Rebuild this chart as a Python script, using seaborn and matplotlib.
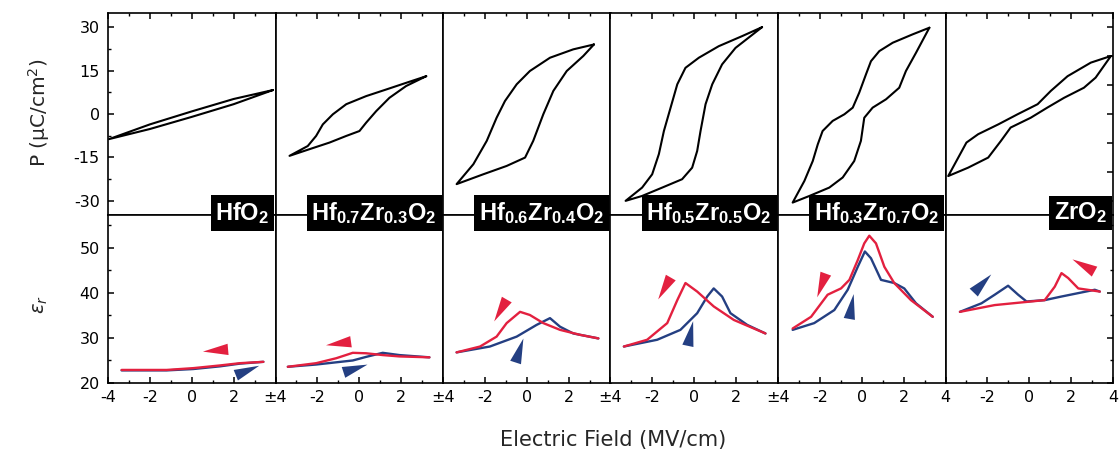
import numpy as np
import pandas as pd
import matplotlib
matplotlib.use("Agg")
import matplotlib.pyplot as plt
import seaborn as sns
from matplotlib.markers import MarkerStyle
from matplotlib.path import Path
from matplotlib.transforms import Affine2D
from matplotlib.ticker import MultipleLocator

# ---------------- data ----------------
materials = [r"$\mathbf{HfO_2}$",
             r"$\mathbf{Hf_{0.7}Zr_{0.3}O_2}$",
             r"$\mathbf{Hf_{0.6}Zr_{0.4}O_2}$",
             r"$\mathbf{Hf_{0.5}Zr_{0.5}O_2}$",
             r"$\mathbf{Hf_{0.3}Zr_{0.7}O_2}$",
             r"$\mathbf{ZrO_2}$"]

# P-E loops: upper branch (sweep +E -> -E), lower branch (sweep -E -> +E)
hfo2_up_E = [3.88, 2.0, 0.0, -2.0, -3.95]
hfo2_up_P = [8.3, 5.2, 0.9, -3.6, -8.7]
hfo2_lo_E = [-3.95, -2.0, 0.0, 2.0, 3.88]
hfo2_lo_P = [-8.7, -5.2, -1.0, 3.4, 8.3]

hz73_up_E = [3.20, 2.24, 1.29, 0.33, -0.62, -1.26, -1.74, -2.06, -2.46, -3.33]
hz73_up_P = [13.1, 10.8, 8.5, 6.2, 3.4, -0.1, -3.6, -7.6, -11.1, -14.5]
hz73_lo_E = [-3.33, -2.38, -1.42, -0.62, 0.01, 0.33, 0.81, 1.44, 2.24, 3.20]
hz73_lo_P = [-14.5, -12.2, -9.9, -7.6, -5.9, -3.0, 1.0, 5.6, 9.7, 13.1]

hz64_up_E = [3.21, 2.22, 1.11, 0.15, -0.48, -1.04, -1.44, -1.91, -2.55, -3.35]
hz64_up_P = [24.1, 22.4, 19.5, 14.9, 10.3, 4.5, -1.3, -9.3, -17.4, -24.3]
hz64_lo_E = [-3.35, -2.08, -0.96, -0.08, 0.31, 0.79, 1.27, 1.91, 2.70, 3.21]
hz64_lo_P = [-24.3, -20.9, -18.0, -15.1, -9.3, -0.1, 8.0, 14.9, 20.1, 24.1]

hz55_up_E = [3.24, 2.29, 1.17, 0.22, -0.42, -0.81, -1.13, -1.45, -1.69, -2.01, -2.49, -3.28]
hz55_up_P = [30.1, 27.0, 23.5, 19.5, 16.0, 10.3, 2.2, -5.9, -13.9, -20.9, -25.5, -30.1]
hz55_lo_E = [-3.28, -2.49, -1.53, -0.58, -0.10, 0.14, 0.30, 0.54, 0.86, 1.33, 1.97, 3.24]
hz55_lo_P = [-30.1, -28.4, -25.5, -22.6, -18.6, -12.8, -5.9, 3.4, 10.3, 17.2, 22.9, 30.1]

hz37_up_E = [3.23, 2.43, 1.48, 0.84, 0.44, 0.20, -0.12, -0.43, -0.83, -1.39, -1.87,
             -2.10, -2.34, -2.74, -3.30]
hz37_up_P = [29.9, 27.6, 24.7, 21.8, 18.3, 13.7, 7.4, 2.2, -0.1, -2.4, -5.9,
             -10.5, -16.3, -23.2, -30.7]
hz37_lo_E = [-3.30, -2.50, -1.55, -0.91, -0.36, -0.04, 0.12, 0.52, 1.16, 1.79, 2.11, 2.59, 3.23]
hz37_lo_P = [-30.7, -28.4, -25.5, -22.0, -16.3, -9.3, -1.3, 2.2, 5.1, 9.1, 14.9, 21.2, 29.9]

zro2_up_E = [3.90, 2.94, 1.83, 1.03, 0.40, -0.56, -1.48, -2.44, -3.0, -3.39, -3.87]
zro2_up_P = [20.1, 17.8, 13.1, 8.0, 3.4, -0.1, -3.6, -7.0, -9.9, -15.1, -21.5]
zro2_lo_E = [-3.87, -2.92, -1.96, -1.35, -0.89, 0.07, 0.86, 1.66, 2.61, 3.17, 3.90]
zro2_lo_P = [-21.5, -18.6, -15.1, -9.3, -4.7, -1.3, 2.2, 5.6, 9.1, 12.6, 20.1]

# permittivity vs field: red = down sweep, blue = up sweep
hfo2_red_E = [-3.35, -1.2, 0.07, 1.35, 2.3, 3.42]
hfo2_red_e = [22.9, 22.9, 23.3, 23.9, 24.4, 24.7]
hfo2_blue_E = [-3.35, -1.2, 0.07, 1.35, 2.3, 3.42]
hfo2_blue_e = [22.8, 22.8, 23.1, 23.7, 24.3, 24.7]

hz73_red_E = [-3.41, -2.06, -1.1, -0.31, 0.33, 1.12, 1.92, 3.35]
hz73_red_e = [23.6, 24.4, 25.5, 26.7, 26.6, 26.2, 25.9, 25.7]
hz73_blue_E = [-3.41, -2.06, -0.31, 0.33, 1.12, 1.92, 3.35]
hz73_blue_e = [23.6, 24.1, 25.0, 25.8, 26.7, 26.2, 25.7]

hz64_red_E = [-3.35, -2.23, -1.44, -0.96, -0.32, 0.15, 0.79, 1.59, 2.54, 3.42]
hz64_red_e = [26.8, 28.1, 30.3, 33.3, 35.8, 35.1, 33.3, 31.8, 30.7, 29.9]
hz64_blue_E = [-3.35, -1.76, -0.48, 0.47, 1.11, 1.59, 2.22, 3.42]
hz64_blue_e = [26.8, 28.1, 30.3, 32.9, 34.4, 32.5, 31.0, 29.9]

hz55_red_E = [-3.36, -2.25, -1.29, -0.81, -0.42, 0.14, 0.93, 1.89, 3.40]
hz55_red_e = [28.1, 29.6, 33.3, 38.4, 42.2, 40.3, 37.0, 34.0, 31.0]
hz55_blue_E = [-3.36, -1.77, -0.66, 0.14, 0.62, 0.93, 1.33, 1.73, 2.53, 3.40]
hz55_blue_e = [28.1, 29.6, 31.8, 35.5, 39.2, 41.0, 39.2, 35.5, 32.9, 31.0]

hz37_red_E = [-3.30, -2.42, -1.63, -0.99, -0.59, -0.19, 0.12, 0.36, 0.68, 1.08, 1.55, 2.35, 3.39]
hz37_red_e = [32.1, 34.7, 39.6, 41.0, 42.9, 47.3, 51.0, 52.7, 51.0, 45.8, 42.2, 38.4, 34.7]
hz37_blue_E = [-3.30, -2.27, -1.31, -0.67, -0.19, 0.15, 0.44, 0.92, 1.55, 2.03, 2.59, 3.39]
hz37_blue_e = [31.8, 33.3, 36.2, 40.7, 45.8, 49.2, 47.7, 42.9, 42.2, 41.0, 37.7, 34.7]

zro2_red_E = [-3.31, -1.65, 0.74, 1.22, 1.54, 1.86, 2.34, 3.37]
zro2_red_e = [35.8, 37.3, 38.4, 41.4, 44.4, 43.3, 41.0, 40.3]
zro2_blue_E = [-3.31, -2.28, -1.65, -1.01, -0.53, -0.13, 0.74, 1.54, 3.13, 3.37]
zro2_blue_e = [35.8, 37.7, 39.6, 41.6, 39.6, 38.1, 38.4, 39.2, 40.7, 40.3]

# sweep-direction arrowheads (E, eps, direction in degrees)
red_arrow_E = [1.11, -1.02, -1.28, -1.45, -1.95, 2.58]
red_arrow_e = [27.3, 28.8, 36.2, 41.0, 41.8, 46.2]
red_arrow_ang = [185, 188, 240, 240, 250, 151]
blue_arrow_E = [2.62, -0.22, -0.36, -0.18, -0.51, -2.28]
blue_arrow_e = [22.9, 23.3, 27.3, 31.0, 37.0, 42.2]
blue_arrow_ang = [22, 18, 72, 78, 80, 46]

x_tick_vals = [-4, -2, 0, 2, 4]
right_edge_labels = ["\u00b14", "\u00b14", "\u00b14", "\u00b14", "4", "4"]

loops = [(hfo2_up_E, hfo2_up_P, hfo2_lo_E, hfo2_lo_P),
         (hz73_up_E, hz73_up_P, hz73_lo_E, hz73_lo_P),
         (hz64_up_E, hz64_up_P, hz64_lo_E, hz64_lo_P),
         (hz55_up_E, hz55_up_P, hz55_lo_E, hz55_lo_P),
         (hz37_up_E, hz37_up_P, hz37_lo_E, hz37_lo_P),
         (zro2_up_E, zro2_up_P, zro2_lo_E, zro2_lo_P)]
perm = [(hfo2_red_E, hfo2_red_e, hfo2_blue_E, hfo2_blue_e),
        (hz73_red_E, hz73_red_e, hz73_blue_E, hz73_blue_e),
        (hz64_red_E, hz64_red_e, hz64_blue_E, hz64_blue_e),
        (hz55_red_E, hz55_red_e, hz55_blue_E, hz55_blue_e),
        (hz37_red_E, hz37_red_e, hz37_blue_E, hz37_blue_e),
        (zro2_red_E, zro2_red_e, zro2_blue_E, zro2_blue_e)]

# ---------------- style ----------------
sns.set_theme(style="ticks")
plt.rcParams['font.family'] = ['DejaVu Sans']
plt.rcParams['axes.unicode_minus'] = False
plt.rcParams['mathtext.fontset'] = 'custom'
plt.rcParams['mathtext.rm'] = 'DejaVu Sans'
plt.rcParams['mathtext.it'] = 'DejaVu Sans:italic'
plt.rcParams['mathtext.bf'] = 'Liberation Sans:bold'
plt.rcParams['axes.edgecolor'] = 'black'
plt.rcParams['axes.linewidth'] = 1.2
plt.rcParams['xtick.color'] = 'black'
plt.rcParams['ytick.color'] = 'black'

RED = '#e3203f'
BLUE = '#243f82'

W, H = 1119, 451
fig = plt.figure(figsize=(W / 100, H / 100), dpi=100)
left_px, right_px, top_px, mid_px, bot_px = 108, 1113, 13, 215, 383
gs = fig.add_gridspec(2, 6, left=left_px / W, right=right_px / W,
                      top=1 - top_px / H, bottom=1 - bot_px / H,
                      height_ratios=[mid_px - top_px, bot_px - mid_px],
                      hspace=0, wspace=0)

arrow_path = Path([(1, 0), (-1, 0.45), (-1, -0.45), (1, 0)],
                  [Path.MOVETO, Path.LINETO, Path.LINETO, Path.CLOSEPOLY])

panel_w = (right_px - left_px) / 6
for i in range(6):
    axt = fig.add_subplot(gs[0, i])
    axb = fig.add_subplot(gs[1, i])

    upE, upP, loE, loP = loops[i]
    df = pd.DataFrame({"E": list(upE) + list(loE), "P": list(upP) + list(loP)})
    sns.lineplot(data=df, x="E", y="P", sort=False, estimator=None,
                 color="black", lw=1.5, ax=axt)

    rE, re, bE, be = perm[i]
    dfb = pd.DataFrame({"E": list(bE), "eps": list(be)})
    dfr = pd.DataFrame({"E": list(rE), "eps": list(re)})
    sns.lineplot(data=dfb, x="E", y="eps", sort=False, estimator=None,
                 color=BLUE, lw=1.7, ax=axb)
    sns.lineplot(data=dfr, x="E", y="eps", sort=False, estimator=None,
                 color=RED, lw=1.7, ax=axb)

    for xa, ya, ang, col in [(red_arrow_E[i], red_arrow_e[i], red_arrow_ang[i], RED),
                             (blue_arrow_E[i], blue_arrow_e[i], blue_arrow_ang[i], BLUE)]:
        m = MarkerStyle(arrow_path, transform=Affine2D().rotate_deg(ang))
        axb.scatter([xa], [ya], marker=m, s=330, color=col, linewidths=0, zorder=5)

    for ax in (axt, axb):
        ax.set_xlim(-4, 4)
        ax.set_xlabel("")
        ax.set_ylabel("")
        ax.xaxis.set_minor_locator(MultipleLocator(1))
        ax.set_xticks(x_tick_vals)
        for sp in ax.spines.values():
            sp.set_visible(True)
            sp.set_color("black")
            sp.set_linewidth(1.2)

    axt.set_ylim(-35, 35)
    axb.set_ylim(20, 57.3)
    if i == 5:
        axt.set_yticks([-30, -20, -10, 0, 10, 20, 30])
    else:
        axt.set_yticks([-30, -15, 0, 15, 30])
        axt.yaxis.set_minor_locator(MultipleLocator(7.5))
    axb.set_yticks([20, 30, 40, 50])
    axb.yaxis.set_minor_locator(MultipleLocator(5))

    axt.tick_params(axis='x', which='both', direction='in', top=True, bottom=False,
                    labelbottom=False, labeltop=False)
    axb.tick_params(axis='x', which='both', direction='in', top=False, bottom=True,
                    labelbottom=True, labelsize=11.5, pad=5)
    labs = ["-4" if i == 0 else "", "-2", "0", "2", right_edge_labels[i]]
    axb.set_xticklabels(labs)

    for ax in (axt, axb):
        ax.tick_params(axis='both', which='major', length=4.5, width=1.1)
        ax.tick_params(axis='both', which='minor', length=2.5, width=1.0)
        ax.tick_params(axis='y', which='both', direction='in',
                       left=(i == 0), right=(i == 5),
                       labelleft=(i == 0), labelright=False,
                       labelsize=11.5, pad=6)

    # material label box straddling the divider
    box_right = left_px + panel_w * (i + 1) - 6
    fig.text(box_right / W, 1 - 213 / H, materials[i], ha='right', va='center',
             color='white', fontsize=17,
             bbox=dict(facecolor='black', edgecolor='none', boxstyle='square,pad=0.2'))

fig.text(39 / W, 1 - 113 / H, "P (\u00b5C/cm$^2$)", rotation=90,
         ha='center', va='center', fontsize=14.5)
fig.text(40 / W, 1 - 305 / H, r"$\varepsilon_r$", rotation=90,
         ha='center', va='center', fontsize=14)
fig.text(613 / W, 1 - 440 / H, "Electric Field (MV/cm)",
         ha='center', va='center', fontsize=15)

fig.savefig("out.png", dpi=100)
